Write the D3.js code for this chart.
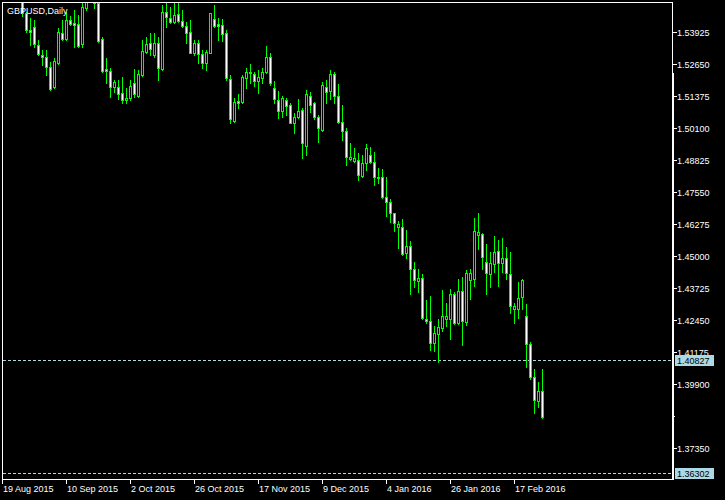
<!DOCTYPE html>
<html><head><meta charset="utf-8">
<script src="https://cdn.jsdelivr.net/npm/d3@7"></script>
<style>html,body{margin:0;padding:0;background:#000;overflow:hidden}</style>
</head><body><svg id="c" width="725" height="500"></svg>
<script>
const title = "GBPUSD,Daily";
const open = [1.5620,1.5650,1.5700,1.5690,1.5700,1.5600,1.5469,1.5402,1.5416,1.5343,
1.5303,1.5296,1.5256,1.5174,1.5272,1.5392,1.5365,1.5442,1.5429,1.5426,
1.5345,1.5489,1.5590,1.5545,1.5509,1.5365,1.5247,1.5239,1.5174,1.5174,
1.5150,1.5124,1.5130,1.5190,1.5141,1.5223,1.5316,1.5349,1.5303,1.5352,
1.5246,1.5475,1.5449,1.5436,1.5466,1.5440,1.5418,1.5393,1.5310,1.5349,
1.5306,1.5270,1.5312,1.5445,1.5426,1.5422,1.5389,1.5206,1.5040,1.5118,
1.5114,1.5210,1.5234,1.5226,1.5200,1.5212,1.5236,1.5294,1.5170,1.5124,
1.5081,1.5124,1.5104,1.5033,1.5054,1.5084,1.4941,1.5141,1.5113,1.5054,
1.5004,1.5176,1.5160,1.5227,1.5141,1.5037,1.5001,1.4887,1.4881,1.4884,
1.4820,1.4871,1.4904,1.4875,1.4815,1.4815,1.4735,1.4718,1.4672,1.4616,
1.4616,1.4515,1.4542,1.4449,1.4403,1.4413,1.4250,1.4243,1.4154,1.4190,
1.4216,1.4249,1.4249,1.4350,1.4233,1.4362,1.4240,1.4406,1.4409,1.4585,
1.4589,1.4479,1.4430,1.4469,1.4523,1.4475,1.4492,1.4430,1.4289,1.4289,
1.4337,1.4262,1.4149,1.4018,1.3925,1.3963];
const high = [1.5660,1.5720,1.5740,1.5800,1.5740,1.5640,1.5475,1.5449,1.5442,1.5363,
1.5323,1.5323,1.5276,1.5290,1.5409,1.5442,1.5475,1.5458,1.5482,1.5462,
1.5530,1.5610,1.5620,1.5560,1.5530,1.5376,1.5290,1.5250,1.5203,1.5203,
1.5216,1.5170,1.5203,1.5246,1.5243,1.5363,1.5376,1.5389,1.5389,1.5376,
1.5502,1.5509,1.5495,1.5509,1.5509,1.5482,1.5436,1.5442,1.5363,1.5363,
1.5323,1.5323,1.5472,1.5502,1.5449,1.5446,1.5403,1.5223,1.5131,1.5147,
1.5223,1.5250,1.5267,1.5236,1.5243,1.5250,1.5339,1.5310,1.5199,1.5159,
1.5139,1.5131,1.5110,1.5072,1.5126,1.5092,1.5163,1.5156,1.5117,1.5064,
1.5196,1.5203,1.5243,1.5236,1.5187,1.5104,1.5011,1.4951,1.4931,1.4911,
1.4904,1.4947,1.4935,1.4915,1.4851,1.4848,1.4815,1.4728,1.4672,1.4641,
1.4649,1.4605,1.4561,1.4479,1.4450,1.4430,1.4326,1.4342,1.4223,1.4250,
1.4366,1.4313,1.4370,1.4357,1.4410,1.4417,1.4446,1.4450,1.4652,1.4672,
1.4592,1.4548,1.4519,1.4581,1.4565,1.4572,1.4539,1.4519,1.4313,1.4399,
1.4410,1.4310,1.4157,1.4050,1.4000,1.4050];
const low = [1.5560,1.5620,1.5660,1.5640,1.5580,1.5460,1.5396,1.5343,1.5336,1.5303,
1.5263,1.5223,1.5163,1.5170,1.5267,1.5363,1.5363,1.5422,1.5336,1.5336,
1.5336,1.5482,1.5530,1.5489,1.5356,1.5236,1.5190,1.5137,1.5157,1.5127,
1.5110,1.5110,1.5124,1.5137,1.5137,1.5219,1.5310,1.5303,1.5296,1.5203,
1.5243,1.5416,1.5429,1.5429,1.5436,1.5416,1.5349,1.5310,1.5303,1.5270,
1.5250,1.5243,1.5310,1.5416,1.5363,1.5360,1.5203,1.5031,1.5036,1.5092,
1.5111,1.5170,1.5190,1.5179,1.5153,1.5190,1.5230,1.5183,1.5112,1.5053,
1.5057,1.5064,1.5030,1.4993,1.5052,1.4893,1.4904,1.5077,1.5046,1.4957,
1.5000,1.5113,1.5126,1.5110,1.5030,1.4964,1.4864,1.4884,1.4877,1.4805,
1.4815,1.4844,1.4871,1.4785,1.4791,1.4732,1.4661,1.4638,1.4602,1.4535,
1.4506,1.4495,1.4350,1.4377,1.4359,1.4249,1.4236,1.4127,1.4124,1.4080,
1.4204,1.4223,1.4171,1.4230,1.4230,1.4147,1.4227,1.4329,1.4382,1.4528,
1.4449,1.4350,1.4377,1.4439,1.4382,1.4439,1.4410,1.4276,1.4236,1.4253,
1.4290,1.4058,1.4010,1.3877,1.3901,1.3855];
const close = [1.5650,1.5700,1.5690,1.5700,1.5600,1.5472,1.5402,1.5393,1.5345,1.5307,
1.5296,1.5256,1.5166,1.5279,1.5393,1.5365,1.5442,1.5426,1.5422,1.5340,
1.5495,1.5590,1.5545,1.5509,1.5360,1.5240,1.5239,1.5176,1.5194,1.5147,
1.5124,1.5130,1.5179,1.5146,1.5227,1.5319,1.5345,1.5325,1.5349,1.5250,
1.5475,1.5453,1.5436,1.5462,1.5440,1.5418,1.5392,1.5312,1.5352,1.5306,
1.5270,1.5314,1.5469,1.5418,1.5418,1.5387,1.5210,1.5047,1.5114,1.5112,
1.5214,1.5234,1.5230,1.5200,1.5214,1.5236,1.5294,1.5190,1.5126,1.5081,
1.5130,1.5101,1.5033,1.5057,1.5081,1.4951,1.5146,1.5104,1.5054,1.5011,
1.5183,1.5157,1.5227,1.5141,1.5037,1.5001,1.4897,1.4897,1.4891,1.4824,
1.4871,1.4931,1.4878,1.4815,1.4811,1.4735,1.4718,1.4674,1.4632,1.4628,
1.4510,1.4542,1.4449,1.4406,1.4413,1.4253,1.4243,1.4156,1.4194,1.4220,
1.4263,1.4262,1.4350,1.4233,1.4362,1.4244,1.4433,1.4433,1.4602,1.4596,
1.4499,1.4433,1.4472,1.4519,1.4475,1.4492,1.4433,1.4303,1.4302,1.4333,
1.4406,1.4149,1.4020,1.3928,1.3963,1.3861];
const priceTicks = [1.53925,1.52650,1.51375,1.50100,1.48825,1.47550,1.46275,1.45000,1.43725,1.42450,1.41175,1.39900,1.37350];
const minorTicks = [1.38625];
const dateTickBars = [0,16,32,48,64,80,96,112,128];
const dateTickLabels = ["19 Aug 2015","10 Sep 2015","2 Oct 2015","26 Oct 2015","17 Nov 2015","9 Dec 2015","4 Jan 2016","26 Jan 2016","17 Feb 2016"];
const levelLines = [1.40827, 1.36302];

const W = 725, H = 500;
const L = 2, T = 2, R = 672, B = 479;
const FONT = "'Liberation Sans', Arial, sans-serif";
const GREEN = "#00ff00", WHITE = "#ffffff", LEVEL = "#add8e6";

const svg = d3.select("#c").attr("shape-rendering", "crispEdges");
svg.append("rect").attr("width", W).attr("height", H).attr("fill", "#000");

const x = d3.scaleLinear().domain([0, 135]).range([2.5, 542.5]);
const y = d3.scaleLinear().domain([1.36126, 1.55141]).range([B, T]);

svg.append("defs").append("clipPath").attr("id", "plot")
  .append("rect").attr("x", L + 1).attr("y", T + 1).attr("width", R - L - 1).attr("height", B - T - 1);

const bars = d3.range(open.length).map(i => ({ i, o: open[i], h: high[i], l: low[i], c: close[i] }));
const g = svg.append("g").attr("clip-path", "url(#plot)");

// level dashed lines
levelLines.forEach(p => {
  const yy = Math.floor(y(p)) - 0.5;
  g.append("line").attr("x1", L + 1).attr("x2", R).attr("y1", yy).attr("y2", yy)
    .attr("stroke", LEVEL).attr("stroke-width", 1).attr("stroke-dasharray", "3,2");
});

const cg = g.selectAll("g.bar").data(bars).join("g").attr("class", "bar");
cg.append("rect")
  .attr("x", d => Math.floor(x(d.i)))
  .attr("y", d => Math.round(y(d.h)))
  .attr("width", 1)
  .attr("height", d => Math.round(y(d.l)) - Math.round(y(d.h)) + 1)
  .attr("fill", GREEN);
cg.append("rect")
  .attr("x", d => Math.floor(x(d.i)) - 1)
  .attr("y", d => Math.round(y(Math.max(d.o, d.c))))
  .attr("width", 3)
  .attr("height", d => Math.round(y(Math.min(d.o, d.c))) - Math.round(y(Math.max(d.o, d.c))) + 1)
  .attr("fill", GREEN);
cg.filter(d => Math.round(y(Math.min(d.o, d.c))) - Math.round(y(Math.max(d.o, d.c))) > 1)
  .append("rect")
  .attr("x", d => Math.floor(x(d.i)))
  .attr("y", d => Math.round(y(Math.max(d.o, d.c))) + 1)
  .attr("width", 1)
  .attr("height", d => Math.round(y(Math.min(d.o, d.c))) - Math.round(y(Math.max(d.o, d.c))) - 1)
  .attr("fill", d => d.c < d.o ? WHITE : "#000");

// frame
const fr = svg.append("g").attr("fill", WHITE);
fr.append("rect").attr("x", L).attr("y", T).attr("width", R - L + 1).attr("height", 1);
fr.append("rect").attr("x", L).attr("y", B).attr("width", R - L + 1).attr("height", 1);
fr.append("rect").attr("x", L).attr("y", T).attr("width", 1).attr("height", B - T + 1);
fr.append("rect").attr("x", R).attr("y", T).attr("width", 1).attr("height", B - T + 1);
fr.append("rect").attr("x", R).attr("y", 73).attr("width", 2).attr("height", B - 73 + 1);

// price axis
priceTicks.forEach(t => {
  const r = Math.floor(y(t));
  fr.append("rect").attr("x", R + 1).attr("y", r).attr("width", 4).attr("height", 1);
  svg.append("text").attr("x", R + 5).attr("y", r + 4)
    .attr("font-family", FONT).attr("font-size", "9px").attr("fill", WHITE)
    .text(d3.format(".5f")(t));
});
minorTicks.forEach(t => {
  const r = Math.floor(y(t));
  fr.append("rect").attr("x", R + 1).attr("y", r).attr("width", 2).attr("height", 1);
});

// level labels
levelLines.forEach(p => {
  const r = Math.floor(y(p)) - 1;
  svg.append("rect").attr("x", R + 3).attr("y", r - 5).attr("width", 39).attr("height", 11).attr("fill", LEVEL);
  svg.append("text").attr("x", R + 5).attr("y", r + 4)
    .attr("font-family", FONT).attr("font-size", "9px").attr("fill", "#000")
    .text(d3.format(".5f")(p));
});

// date axis
dateTickBars.forEach((b, k) => {
  const cx = Math.floor(x(b));
  fr.append("rect").attr("x", cx).attr("y", B + 1).attr("width", 1).attr("height", 4);
  svg.append("text").attr("x", cx + 1).attr("y", 492)
    .attr("font-family", FONT).attr("font-size", "9px").attr("fill", WHITE)
    .text(dateTickLabels[k]);
});

// title
svg.append("text").attr("x", 7).attr("y", 14)
  .attr("font-family", FONT).attr("font-size", "9px").attr("fill", WHITE)
  .text(title);
</script>
</body></html>
